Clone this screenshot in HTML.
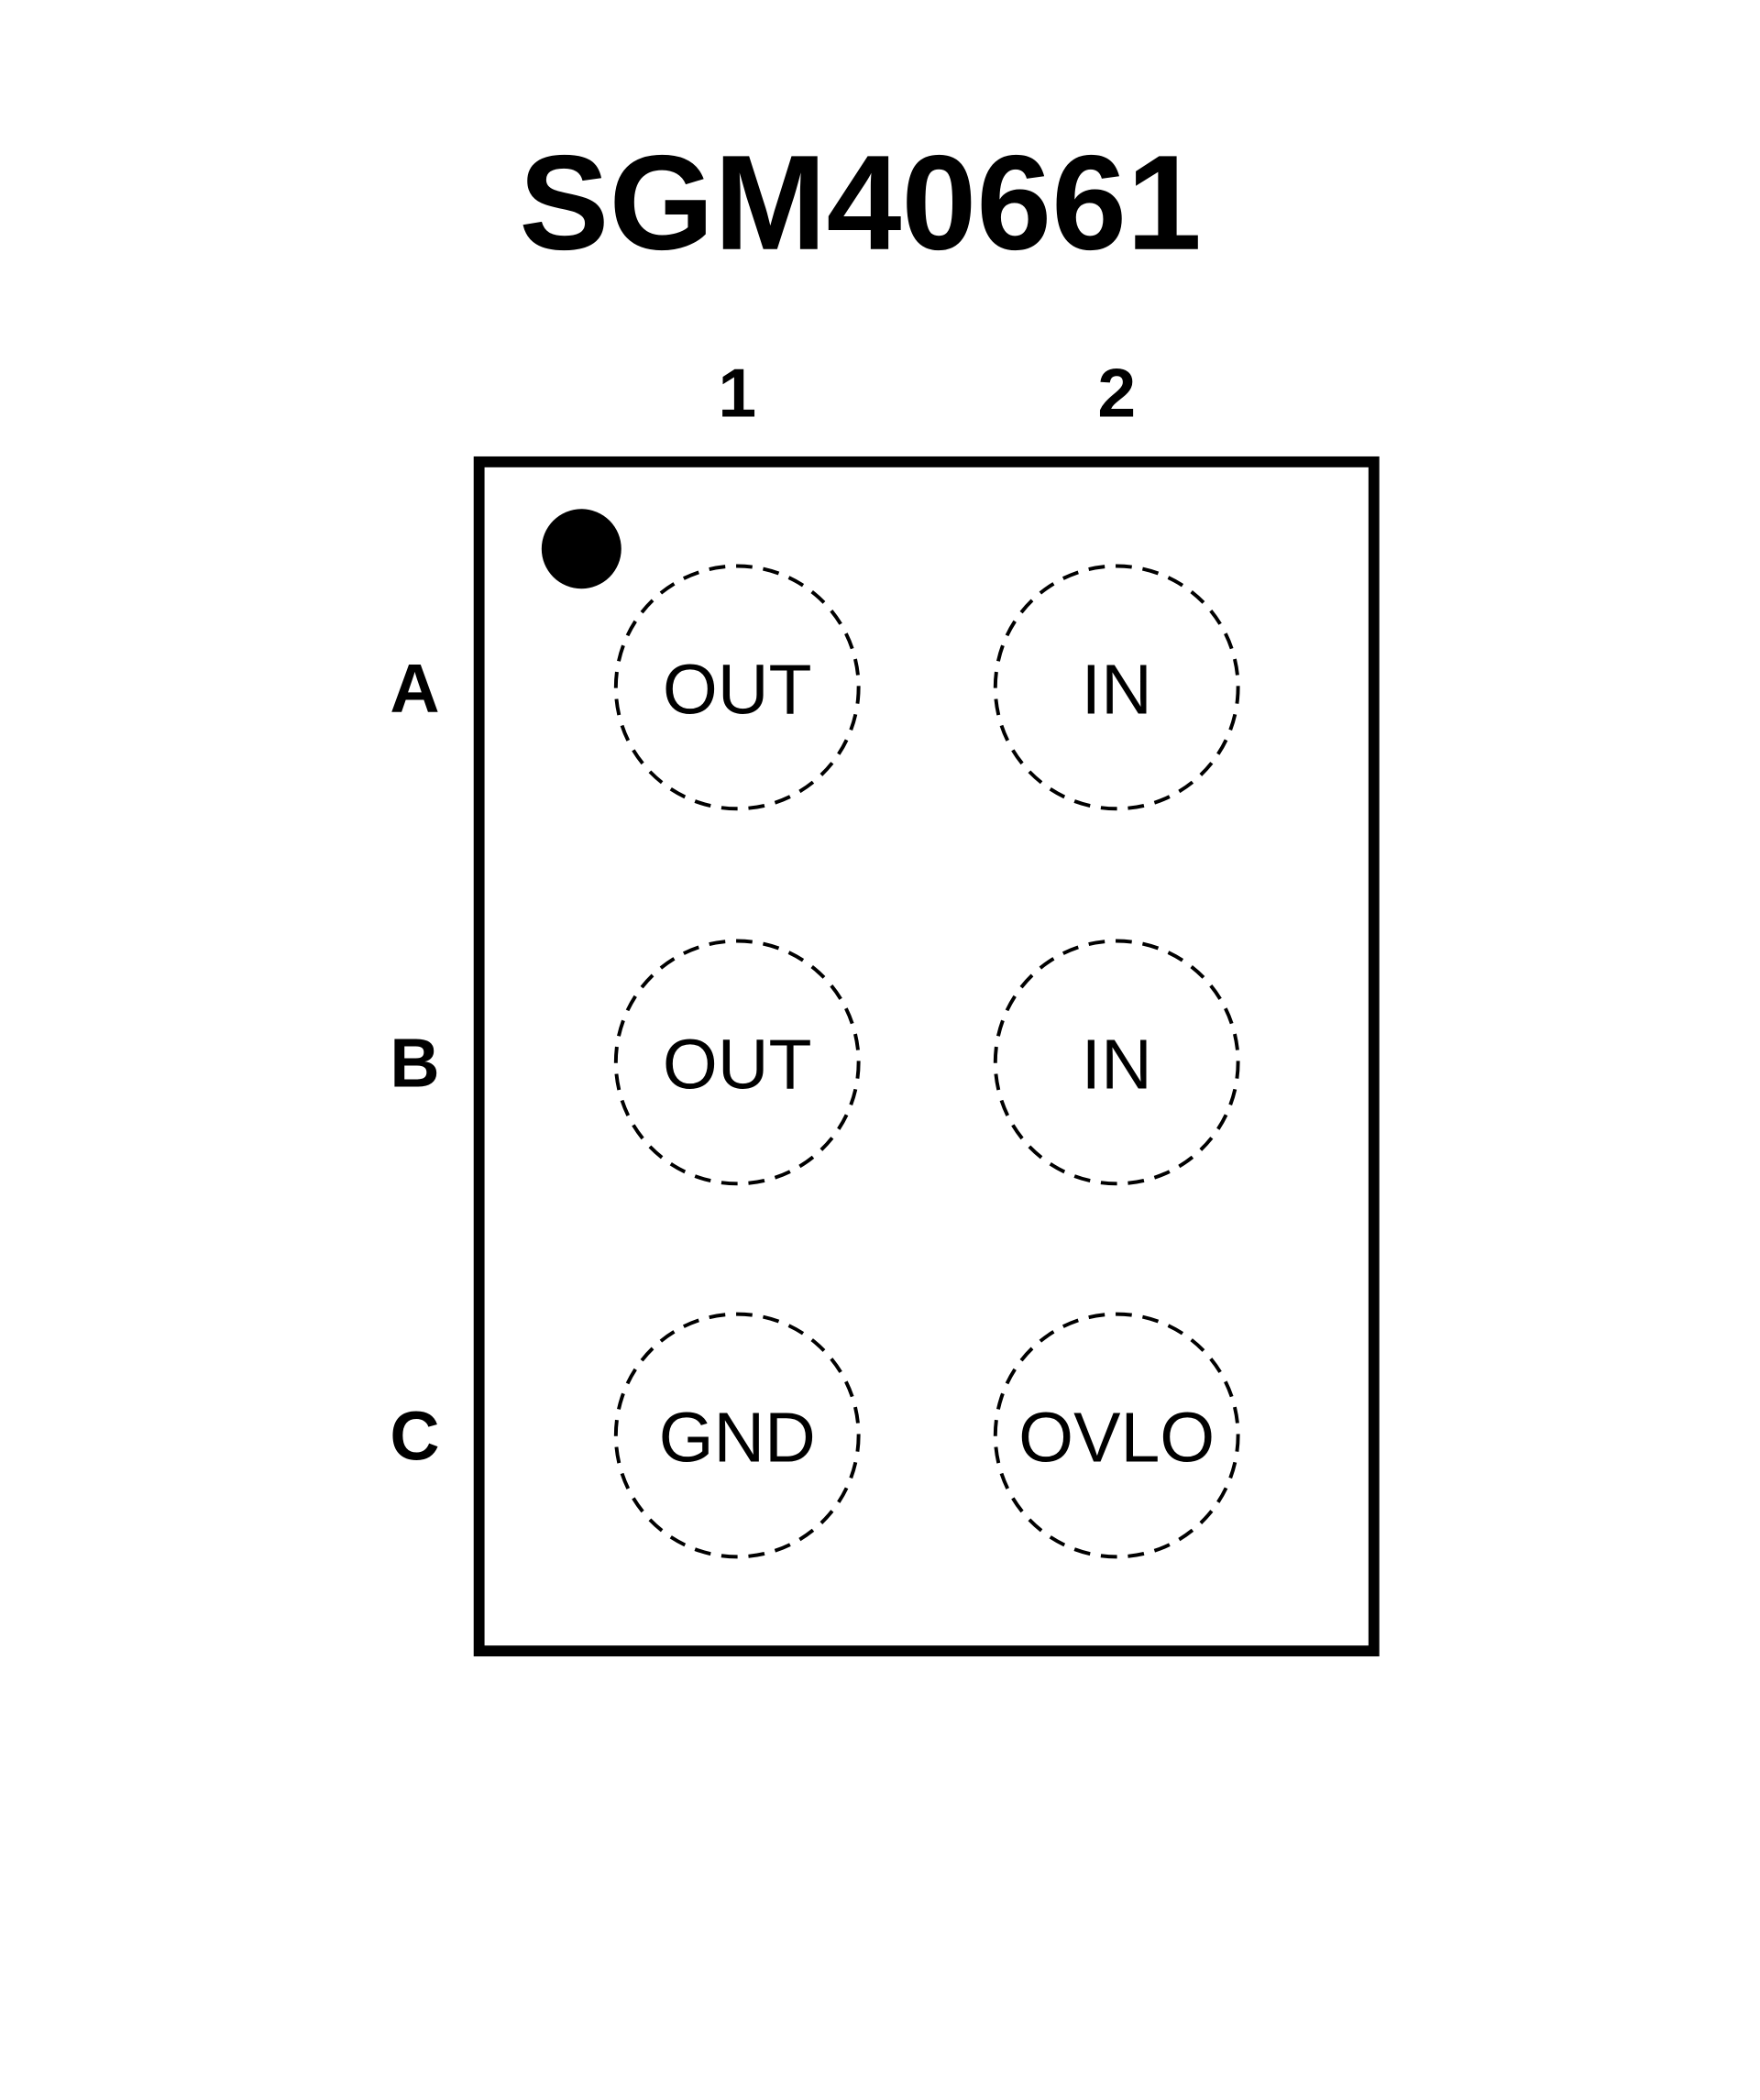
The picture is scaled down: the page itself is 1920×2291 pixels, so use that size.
<!DOCTYPE html>
<html><head><style>
html,body{margin:0;padding:0;background:#fff;}
svg{display:block;}
</style></head><body>
<svg width="1920" height="2291" viewBox="0 0 1920 2291" xmlns="http://www.w3.org/2000/svg">
<rect width="1920" height="2291" fill="#fff"/>
<g transform="scale(0.988)">
<text x="950" y="275" font-family="Liberation Sans, sans-serif" font-weight="bold" font-size="149" text-anchor="middle">SGM40661</text>
<g font-family="Liberation Sans, sans-serif" font-weight="bold" font-size="76" text-anchor="middle">
<text x="814" y="460">1</text>
<text x="1233" y="460">2</text>
<text x="458" y="786">A</text>
<text x="458" y="1200">B</text>
<text x="458" y="1612">C</text>
</g>
<rect x="529" y="510" width="988" height="1313" fill="none" stroke="#000" stroke-width="12"/>
<circle cx="642" cy="606" r="44" fill="#000"/>
<g fill="none" stroke="#000" stroke-width="4" stroke-dasharray="18 12">
<circle cx="814" cy="759" r="134"/>
<circle cx="1233" cy="759" r="134"/>
<circle cx="814" cy="1173" r="134"/>
<circle cx="1233" cy="1173" r="134"/>
<circle cx="814" cy="1585" r="134"/>
<circle cx="1233" cy="1585" r="134"/>
</g>
<g font-family="Liberation Sans, sans-serif" font-size="78" text-anchor="middle">
<text x="814" y="788">OUT</text>
<text x="1233" y="788">IN</text>
<text x="814" y="1202">OUT</text>
<text x="1233" y="1202">IN</text>
<text x="814" y="1614">GND</text>
<text x="1233" y="1614">OVLO</text>
</g>
</g>
</svg>
</body></html>
